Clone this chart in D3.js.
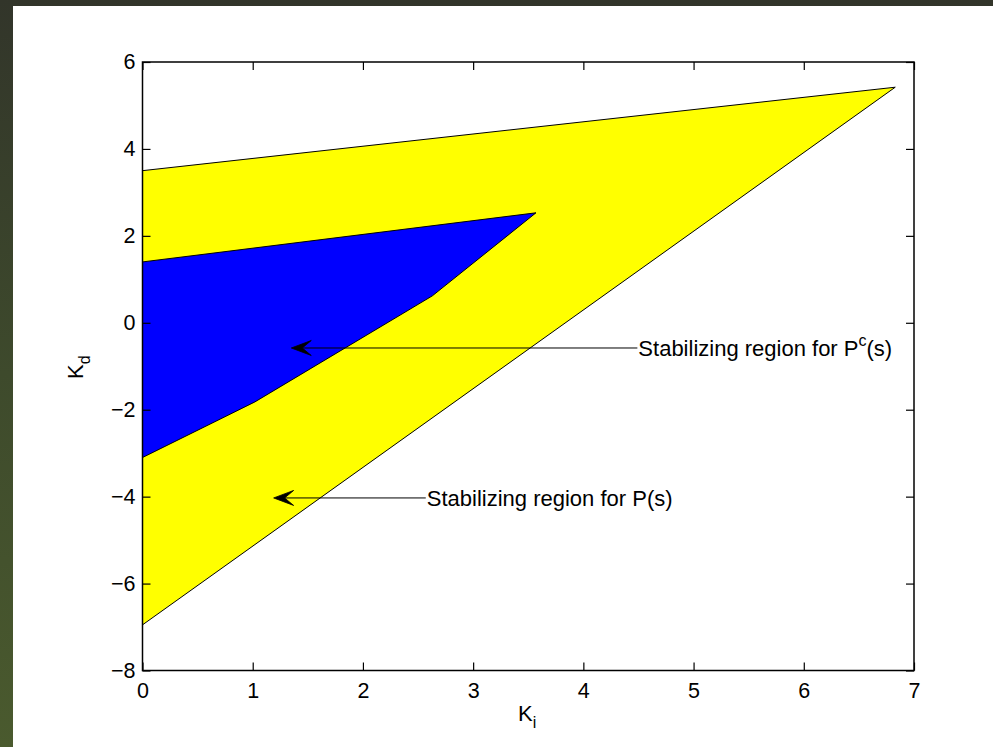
<!DOCTYPE html>
<html>
<head>
<meta charset="utf-8">
<script src="https://cdn.jsdelivr.net/npm/d3@7"></script>
<style>
  html, body { margin: 0; padding: 0; }
  body { width: 993px; height: 747px; overflow: hidden;
         background: linear-gradient(to bottom, #32352a 0%, #3e4a2c 50%, #4a5a2e 100%); }
  svg { display: block; }
</style>
</head>
<body>
<script>
// tick values
const xTicks = [0, 1, 2, 3, 4, 5, 6, 7];
const yTicks = [-8, -6, -4, -2, 0, 2, 4, 6];

// stabilizing region for P(s)
const outerKi = [0, 6.83, 0];
const outerKd = [3.5, 5.42, -6.95];

// stabilizing region for P^c(s)
const innerKi = [0, 3.57, 2.63, 1.02, 0];
const innerKd = [1.4, 2.53, 0.62, -1.82, -3.1];

// annotations: text, superscript, tail (Ki,Kd), head (Ki,Kd)
const noteText = ["Stabilizing region for P", "Stabilizing region for P"];
const noteSup = ["c", ""];
const noteTail = [[4.49, -0.58], [2.57, -4.03]];
const noteHead = [[1.35, -0.58], [1.19, -4.03]];

const W = 993, H = 747;
const font = "'Liberation Sans', Arial, Helvetica, sans-serif";

let svg = d3.select("body").append("svg")
	.attr("width", W)
	.attr("height", H)

// white figure area
svg.append("rect")
	.attr("x", 13)
	.attr("y", 6)
	.attr("width", W - 13)
	.attr("height", H - 6)
	.attr("fill", "white")

let x = d3.scaleLinear().domain([0, 7]).range([142.5, 914]);
let y = d3.scaleLinear().domain([-8, 6]).range([670.5, 62]);

let toPts = (ki, kd) => ki.map((v, i) => [x(v), y(kd[i])]);
let line = d3.line();

svg.append("path")
	.attr("d", line(toPts(outerKi, outerKd)) + "Z")
	.attr("fill", "#ffff00")
	.attr("stroke", "black")
	.attr("stroke-width", 1)

svg.append("path")
	.attr("d", line(toPts(innerKi, innerKd)) + "Z")
	.attr("fill", "#0000ff")
	.attr("stroke", "black")
	.attr("stroke-width", 1)

// annotations
noteText.forEach((t, i) => {
	let tx = x(noteTail[i][0]), ty = y(noteTail[i][1]);
	let hx = x(noteHead[i][0]), hy = y(noteHead[i][1]);
	svg.append("line")
		.attr("x1", tx).attr("y1", ty)
		.attr("x2", hx + 10).attr("y2", hy)
		.attr("stroke", "black")
		.attr("stroke-width", 1)
	// arrow head, concave like matlab's
	let hl = 20, hw = 7.5, notch = 11;
	svg.append("path")
		.attr("d", `M${hx},${hy} L${hx + hl},${hy - hw} L${hx + notch},${hy} L${hx + hl},${hy + hw} Z`)
		.attr("fill", "black")
		.attr("stroke", "black")
		.attr("stroke-width", 0.8)
		.attr("stroke-linejoin", "miter")
	let txt = svg.append("text")
		.attr("x", tx + 1)
		.attr("y", ty + 8)
		.attr("font-family", font)
		.attr("font-size", "22px")
		.attr("fill", "black")
		.text(t)
	if (noteSup[i]) {
		txt.append("tspan")
			.attr("dy", -10)
			.attr("font-size", "16px")
			.text(noteSup[i])
		txt.append("tspan")
			.attr("dy", 10)
			.text("(s)")
	} else {
		txt.append("tspan").text("(s)")
	}
})

// axes
let fmt = d3.format("d");
let gx = svg.append("g")
	.attr("transform", `translate(0,${y(-8)})`)
	.call(d3.axisBottom(x).tickValues(xTicks).tickFormat(fmt).tickSizeInner(-8).tickSizeOuter(0).tickPadding(12))
let gy = svg.append("g")
	.attr("transform", `translate(${x(0)},0)`)
	.call(d3.axisLeft(y).tickValues(yTicks).tickFormat(fmt).tickSizeInner(-8).tickSizeOuter(0).tickPadding(7))
let gt = svg.append("g")
	.attr("transform", `translate(0,${y(6)})`)
	.call(d3.axisTop(x).tickValues(xTicks).tickFormat("").tickSizeInner(-8).tickSizeOuter(0))
let gr = svg.append("g")
	.attr("transform", `translate(${x(7)},0)`)
	.call(d3.axisRight(y).tickValues(yTicks).tickFormat("").tickSizeInner(-8).tickSizeOuter(0))

svg.selectAll(".domain").remove();
svg.selectAll(".tick line").attr("stroke", "black").attr("stroke-width", 1.2);
svg.selectAll(".tick text")
	.attr("font-family", font)
	.attr("font-size", "21.5px")
	.attr("fill", "black")

// box
svg.append("rect")
	.attr("x", x(0))
	.attr("y", y(6))
	.attr("width", x(7) - x(0))
	.attr("height", y(-8) - y(6))
	.attr("fill", "none")
	.attr("stroke", "black")
	.attr("stroke-width", 1.5)

// axis labels
let xl = svg.append("text")
	.attr("x", 518)
	.attr("y", 721)
	.attr("font-family", font)
	.attr("font-size", "22px")
	.text("K")
xl.append("tspan").attr("dy", 7).attr("font-size", "16px").text("i")

let yl = svg.append("text")
	.attr("transform", "translate(83,379) rotate(-90)")
	.attr("font-family", font)
	.attr("font-size", "22px")
	.text("K")
yl.append("tspan").attr("dy", 7).attr("font-size", "16px").text("d")
</script>
</body>
</html>
